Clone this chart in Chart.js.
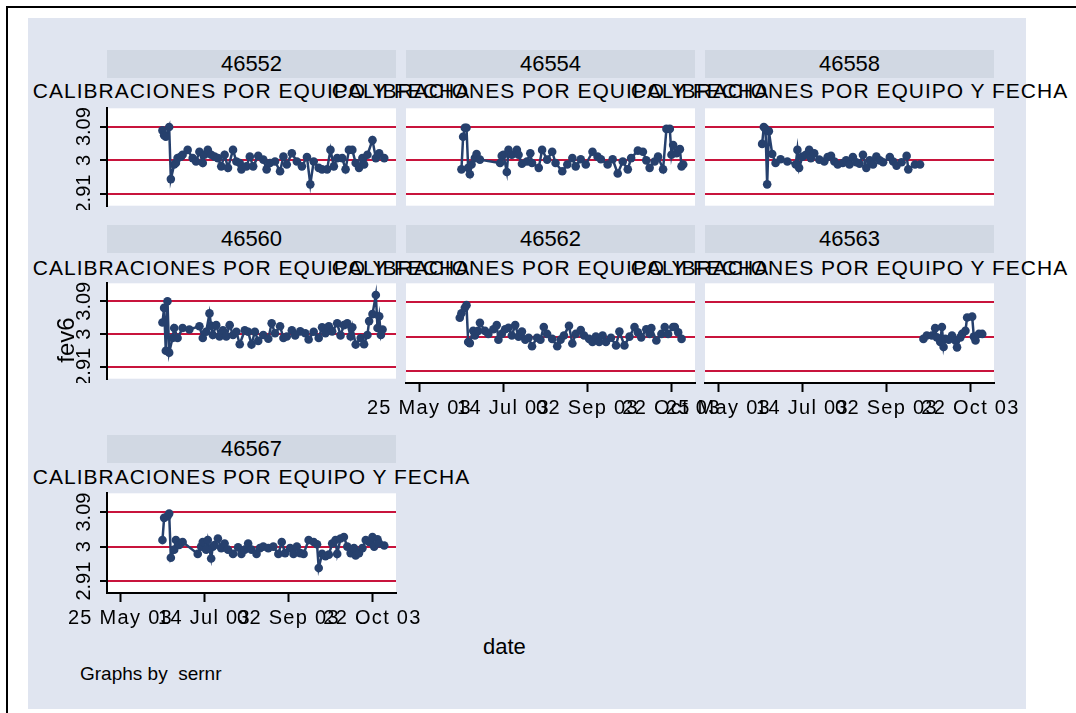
<!DOCTYPE html>
<html>
<head>
<meta charset="utf-8">
<script src="https://cdn.jsdelivr.net/npm/chart.js@4.4.1/dist/chart.umd.min.js"></script>
<style>
  body { margin: 0; background: #fff; width: 1076px; height: 713px; overflow: hidden; position: relative;
         font-family: "Liberation Sans", Arial, sans-serif; color: #000; }
  .frame { position: absolute; left: 6px; top: 6px; width: 2000px; height: 2000px;
           border-left: 2px solid #000; border-top: 2px solid #000; }
  .region { position: absolute; left: 28px; top: 18px; width: 998px; height: 691px; background: #e0e5f0; }
  canvas { position: absolute; }
  .strip { position: absolute; height: 28px; line-height: 28px; background: #d1d8e3; text-align: center; font-size: 22px; }
  .title { position: absolute; width: 700px; text-align: center; white-space: nowrap; font-size: 21px;
           line-height: 21px; letter-spacing: 1px; }
  .txt { position: absolute; white-space: pre; }
</style>
</head>
<body>
<div class="frame"></div>
<div class="region"></div>
<div id="panels"></div>
<script>
// x = days since 25 May 2003, y = fev6
var tickDays = [0, 50, 100, 150];
var tickDates = ["25 May 03", "14 Jul 03", "02 Sep 03", "22 Oct 03"];
var yTicks = [2.91, 3, 3.09];
var yTickLabels = ["2.91", "3", "3.09"];

var days46552 = [25,26,27,29,30,32,33,34,36,37,40,43,45,47,49,50,52,54,56,58,60,62,64,67,69,71,72,75,77,79,82,85,87,89,92,95,97,99,102,105,108,111,113,115,118,120,123,125,127,129,132,134,136,138,140,142,144,145,147,150,152,154,157];
var fev46552 = [3.080,3.067,3.063,3.089,2.950,2.989,2.993,3.006,3.010,3.015,3.028,3.006,2.997,3.023,2.993,3.015,3.028,3.015,3.010,3.006,2.984,3.015,2.980,3.028,2.997,2.993,2.976,2.984,3.010,2.984,3.012,3.002,2.976,2.993,2.997,2.971,3.010,2.989,3.019,2.997,2.984,3.009,2.936,2.997,2.980,2.976,2.976,3.028,2.984,3.006,3.006,2.976,3.028,3.028,2.993,2.980,3.006,2.989,3.015,3.054,3.006,3.019,3.006];

var days46554 = [25,26,27,28,29,30,31,33,34,36,48,49,50,52,53,55,58,59,61,64,66,67,71,73,76,79,81,85,88,91,93,96,99,103,106,108,112,115,118,121,124,126,130,133,135,137,140,142,145,147,149,150,151,153,155,156,157];
var fev46554 = [2.976,3.063,3.087,3.087,2.980,2.963,2.989,3.006,3.017,3.002,2.993,3.012,3.015,2.969,3.028,3.015,3.028,3.015,2.991,2.997,3.019,2.993,2.980,3.028,3.002,3.023,2.993,2.971,2.989,3.006,2.984,3.003,2.989,3.023,3.010,3.003,2.989,3.003,2.965,2.997,2.976,3.006,3.026,3.023,3.000,2.980,2.997,3.010,2.976,3.084,3.084,3.015,3.041,3.019,3.030,2.984,2.989];

var days46558 = [26,27,28,29,30,32,34,37,41,46,47,48,50,52,54,55,57,60,63,65,67,69,71,74,76,78,80,82,84,86,88,90,92,94,96,98,102,104,106,109,112,113,117,120];
var fev46558 = [3.044,3.089,3.084,2.936,3.078,3.017,2.993,3.003,2.997,2.989,3.028,2.980,3.010,3.015,3.028,3.006,3.019,3.002,2.997,3.009,3.012,2.997,2.989,2.993,3.000,2.989,3.009,2.995,2.991,3.015,2.980,3.000,2.989,3.010,3.000,2.995,3.009,2.997,2.986,2.995,3.012,2.976,2.989,2.989];

var days46560 = [25,26,27,28,29,31,32,34,37,41,47,49,51,53,54,55,57,59,61,63,65,67,69,71,74,76,78,80,82,85,88,90,92,95,97,99,102,104,107,110,112,115,118,120,122,124,126,129,131,133,135,137,138,140,143,145,147,148,150,152,153,154,155,156];
var fev46560 = [3.032,3.072,2.955,3.090,2.950,2.990,3.017,2.990,3.017,3.013,3.022,2.990,3.007,3.057,3.023,2.998,3.025,2.994,3.011,2.994,3.025,2.998,3.007,2.973,3.011,3.007,2.972,3.007,2.982,2.998,2.988,3.030,3.003,3.022,2.990,2.994,3.011,2.997,3.008,3.003,2.986,3.007,2.990,3.019,3.003,3.022,3.008,3.030,2.997,3.025,3.030,2.994,3.019,2.972,2.990,2.973,2.998,3.036,3.055,3.107,3.017,3.049,2.998,3.013];

var days46562 = [24,25,27,28,29,30,32,33,35,36,39,41,44,46,47,49,51,53,55,57,59,61,63,65,67,70,72,74,76,79,82,84,86,89,91,93,96,98,101,103,105,107,109,111,114,117,119,122,125,128,130,132,135,137,138,141,144,146,148,151,152,154,156];
var fev46562 = [3.049,3.061,3.075,3.082,2.986,2.983,3.015,3.003,3.015,3.036,3.015,3.007,3.019,3.030,2.992,3.007,3.019,3.023,3.003,3.030,3.000,3.013,2.992,2.997,2.975,2.997,2.992,3.025,3.007,2.994,2.975,2.992,3.003,3.028,2.982,3.007,3.017,3.003,2.994,2.986,3.000,2.986,3.003,2.986,2.997,2.977,3.013,2.977,3.000,3.025,3.011,2.998,3.019,3.007,3.022,2.990,3.007,3.025,3.007,3.025,3.025,3.011,2.994];

var days46563 = [122,124,127,129,130,132,133,134,135,137,139,141,142,144,145,147,148,151,152,153,155,157];
var fev46563 = [2.994,3.003,3.003,3.022,2.998,2.986,3.025,2.973,2.994,2.992,3.003,2.990,2.972,2.998,3.007,3.015,3.050,3.052,3.000,2.990,3.007,3.007];

var days46567 = [25,26,28,29,30,32,33,35,37,46,48,49,51,52,54,55,56,58,60,62,64,67,70,72,74,76,78,81,83,85,88,91,94,96,98,101,103,105,107,109,112,115,117,118,120,122,124,126,128,129,131,133,135,137,139,140,142,144,146,148,150,151,153,154,157];
var fev46567 = [3.017,3.075,3.079,3.086,2.971,2.992,3.017,3.004,3.012,2.981,3.000,3.012,2.992,3.017,2.969,3.000,3.004,3.021,2.996,3.008,2.992,2.981,2.998,2.981,2.992,3.008,2.992,2.981,2.996,3.000,2.996,3.000,2.981,3.012,2.983,2.996,2.981,3.000,2.983,2.981,3.017,3.012,3.006,2.944,2.981,2.975,2.979,3.008,3.017,2.981,3.021,3.025,3.000,2.983,2.996,2.977,2.983,2.996,3.017,3.012,3.025,3.000,3.019,3.008,3.003];

var titleText = "CALIBRACIONES POR EQUIPO Y FECHA";

var panels = [
    { sernr: "46552", days: days46552, fev6: fev46552, col: 0, row: 0, yAxis: true,  xAxis: false },
    { sernr: "46554", days: days46554, fev6: fev46554, col: 1, row: 0, yAxis: false, xAxis: false },
    { sernr: "46558", days: days46558, fev6: fev46558, col: 2, row: 0, yAxis: false, xAxis: false },
    { sernr: "46560", days: days46560, fev6: fev46560, col: 0, row: 1, yAxis: true,  xAxis: false },
    { sernr: "46562", days: days46562, fev6: fev46562, col: 1, row: 1, yAxis: false, xAxis: true },
    { sernr: "46563", days: days46563, fev6: fev46563, col: 2, row: 1, yAxis: false, xAxis: true },
    { sernr: "46567", days: days46567, fev6: fev46567, col: 0, row: 2, yAxis: true,  xAxis: true }
];

var colLeft = [107, 406, 705];
var plotW = 289;
var rowTop = [106, 281, 491];
var rowH = [104, 102, 102];
var stripTop = [50, 225, 435];
var titleTop = [80, 257, 466];
var AXW = 60, PADR = 60, PADT = 2, AXH = 45;
var navy = "#26406d";
var FONT = '"Liberation Sans", Arial, sans-serif';

var stataLabels = {
    id: "stataLabels",
    beforeDraw: function (chart) {
        var a = chart.chartArea, ctx = chart.ctx;
        ctx.save();
        ctx.fillStyle = "#fff";
        ctx.fillRect(a.left, a.top, a.right - a.left, a.bottom - a.top);
        ctx.restore();
    },
    afterDraw: function (chart, args, opts) {
        var a = chart.chartArea, ctx = chart.ctx;
        ctx.save();
        ctx.fillStyle = "#000";
        ctx.textAlign = "center";
        if (opts.yAxis) {
            ctx.font = "20px " + FONT;
            ctx.textBaseline = "middle";
            yTicks.forEach(function (v, i) {
                var y = chart.scales.y.getPixelForValue(v);
                ctx.save();
                ctx.translate(a.left - 23, y);
                ctx.rotate(-Math.PI / 2);
                ctx.fillText(yTickLabels[i], 0, 0);
                ctx.restore();
            });
        }
        if (opts.xAxis) {
            ctx.font = "20px " + FONT;
            ctx.letterSpacing = "1.3px";
            ctx.textBaseline = "alphabetic";
            tickDays.forEach(function (d, i) {
                ctx.fillText(tickDates[i], chart.scales.x.getPixelForValue(d), a.bottom + 31);
            });
        }
        ctx.restore();
    }
};

var holder = document.getElementById("panels");

panels.forEach(function (p) {
    var left = colLeft[p.col], top = rowTop[p.row], h = rowH[p.row];
    var cv = document.createElement("canvas");
    var cw = AXW + plotW + PADR, ch = PADT + h + (p.xAxis ? AXH : 0);
    cv.width = cw; cv.height = ch;
    cv.style.left = (left - AXW) + "px";
    cv.style.top = (top - PADT) + "px";
    cv.style.width = cw + "px"; cv.style.height = ch + "px";
    holder.appendChild(cv);

    var pts = p.days.map(function (d, i) { return { x: d, y: p.fev6[i] }; });

    new Chart(cv.getContext("2d"), {
        type: "line",
        data: {
            datasets: [{
                data: pts,
                borderColor: navy,
                backgroundColor: navy,
                borderWidth: 2.5,
                pointRadius: 4.3,
                pointBorderWidth: 0,
                pointBackgroundColor: navy,
                tension: 0
            }]
        },
        options: {
            responsive: false,
            animation: false,
            devicePixelRatio: 1,
            layout: { padding: { left: 0, top: PADT, right: PADR, bottom: 0 } },
            plugins: {
                legend: { display: false },
                tooltip: { enabled: false },
                stataLabels: { yAxis: p.yAxis, xAxis: p.xAxis }
            },
            scales: {
                x: {
                    type: "linear",
                    min: -8,
                    max: 164,
                    afterBuildTicks: function (s) { s.ticks = tickDays.map(function (v) { return { value: v }; }); },
                    afterFit: function (s) { s.height = p.xAxis ? AXH : 0; },
                    ticks: { display: false },
                    grid: { display: p.xAxis, drawOnChartArea: false, drawTicks: true, tickLength: 9, tickColor: "#000", tickWidth: 2 },
                    border: { display: p.xAxis, color: "#000", width: 2 }
                },
                y: {
                    min: 2.879,
                    max: 3.139,
                    afterBuildTicks: function (s) { s.ticks = yTicks.map(function (v) { return { value: v }; }); },
                    afterFit: function (s) { s.width = AXW; },
                    ticks: { display: false },
                    grid: { color: "#c8143c", lineWidth: 2, drawTicks: p.yAxis, tickLength: 7, tickColor: "#000", tickWidth: 2 },
                    border: { display: p.yAxis, color: "#000", width: 2 }
                }
            }
        },
        plugins: [stataLabels]
    });

    var strip = document.createElement("div");
    strip.className = "strip";
    strip.style.left = left + "px";
    strip.style.top = stripTop[p.row] + "px";
    strip.style.width = plotW + "px";
    strip.textContent = p.sernr;
    holder.appendChild(strip);

    var t = document.createElement("div");
    t.className = "title";
    t.style.left = (left + plotW / 2 - 350) + "px";
    t.style.top = titleTop[p.row] + "px";
    t.textContent = titleText;
    holder.appendChild(t);
});

function addText(txt, x, y, size, extra) {
    var d = document.createElement("div");
    d.className = "txt";
    d.style.left = x + "px";
    d.style.top = y + "px";
    d.style.fontSize = size + "px";
    d.style.lineHeight = size + "px";
    if (extra) Object.assign(d.style, extra);
    d.textContent = txt;
    holder.appendChild(d);
    return d;
}

addText("date", 483, 636, 22);
addText("Graphs by  sernr", 80, 664, 19);
addText("fev6", 36, 328, 24, { width: "60px", textAlign: "center", transform: "rotate(-90deg)" });
</script>
</body>
</html>
